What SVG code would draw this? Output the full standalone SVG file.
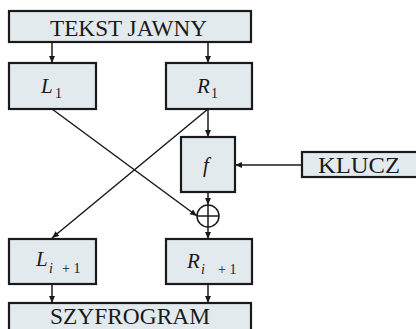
<svg xmlns="http://www.w3.org/2000/svg" width="416" height="329" viewBox="0 0 416 329">
<defs>
<marker id="ah" markerUnits="userSpaceOnUse" markerWidth="8" markerHeight="7" refX="7" refY="3" orient="auto">
<path d="M0,0 L7,3 L0,6 z" fill="#1a1a1a"/>
</marker>
<style>
.box{fill:#e3eaee;stroke:#1a1a1a;stroke-width:2.2}
.lbl{font-family:"Liberation Serif","DejaVu Serif",serif;font-size:23px;fill:#1a1a1a}
.m{font-family:"Liberation Serif","DejaVu Serif",serif;font-style:italic;font-size:21px;fill:#1a1a1a}
.s{font-family:"Liberation Serif","DejaVu Serif",serif;font-size:14px;fill:#1a1a1a}
.si{font-family:"Liberation Serif","DejaVu Serif",serif;font-style:italic;font-size:14px;fill:#1a1a1a}
.c{fill:none;stroke:#1a1a1a;stroke-width:1.5}
</style>
</defs>
<g id="connectors">
<line class="c" x1="52" y1="42" x2="52" y2="63" marker-end="url(#ah)"/>
<line class="c" x1="208" y1="42" x2="208" y2="63" marker-end="url(#ah)"/>
<line class="c" x1="208" y1="109" x2="208" y2="137" marker-end="url(#ah)"/>
<line class="c" x1="302" y1="165" x2="235" y2="165" marker-end="url(#ah)"/>
<line class="c" x1="208" y1="192" x2="208" y2="205" marker-end="url(#ah)"/>
<line class="c" x1="52" y1="109" x2="197" y2="216" marker-end="url(#ah)"/>
<line class="c" x1="208" y1="109" x2="52" y2="238" marker-end="url(#ah)"/>
<line class="c" x1="208" y1="227" x2="208" y2="239" marker-end="url(#ah)"/>
<line class="c" x1="52" y1="284" x2="52" y2="303" marker-end="url(#ah)"/>
<line class="c" x1="208" y1="284" x2="208" y2="303" marker-end="url(#ah)"/>
</g>
<g id="tekst">
<rect class="box" x="9" y="11" width="242" height="31"/>
<text class="lbl" x="50" y="36" textLength="157" lengthAdjust="spacingAndGlyphs">TEKST JAWNY</text>
</g>
<g id="L1">
<rect class="box" x="9" y="63" width="87" height="46"/>
<text class="m" x="41" y="93">L</text><text class="s" x="55" y="98">1</text>
</g>
<g id="R1">
<rect class="box" x="166" y="63" width="86" height="46"/>
<text class="m" x="197" y="93">R</text><text class="s" x="211" y="98">1</text>
</g>
<g id="f">
<rect class="box" x="181" y="137" width="54" height="55"/>
<text class="m" x="203" y="172">f</text>
</g>
<g id="klucz">
<rect class="box" x="302" y="152" width="120" height="25"/>
<text class="lbl" x="318" y="173" textLength="82" lengthAdjust="spacingAndGlyphs">KLUCZ</text>
</g>
<g id="xor">
<circle cx="208" cy="216" r="11" fill="none" stroke="#1a1a1a" stroke-width="1.5"/>
<line x1="197" y1="216" x2="219" y2="216" stroke="#1a1a1a" stroke-width="1.5"/>
<line x1="208" y1="205" x2="208" y2="227" stroke="#1a1a1a" stroke-width="1.5"/>
</g>
<g id="Li1">
<rect class="box" x="9" y="239" width="87" height="45"/>
<text class="m" x="36" y="266">L</text><text class="si" x="49" y="273">i</text><text class="s" x="62" y="273">+ 1</text>
</g>
<g id="Ri1">
<rect class="box" x="166" y="239" width="86" height="45"/>
<text class="m" x="187" y="268">R</text><text class="si" x="201" y="274">i</text><text class="s" x="218" y="274">+ 1</text>
</g>
<g id="szyfrogram">
<rect class="box" x="9" y="303" width="242" height="32"/>
<text class="lbl" x="50" y="324" font-size="22" textLength="160" lengthAdjust="spacingAndGlyphs">SZYFROGRAM</text>
</g>
</svg>
